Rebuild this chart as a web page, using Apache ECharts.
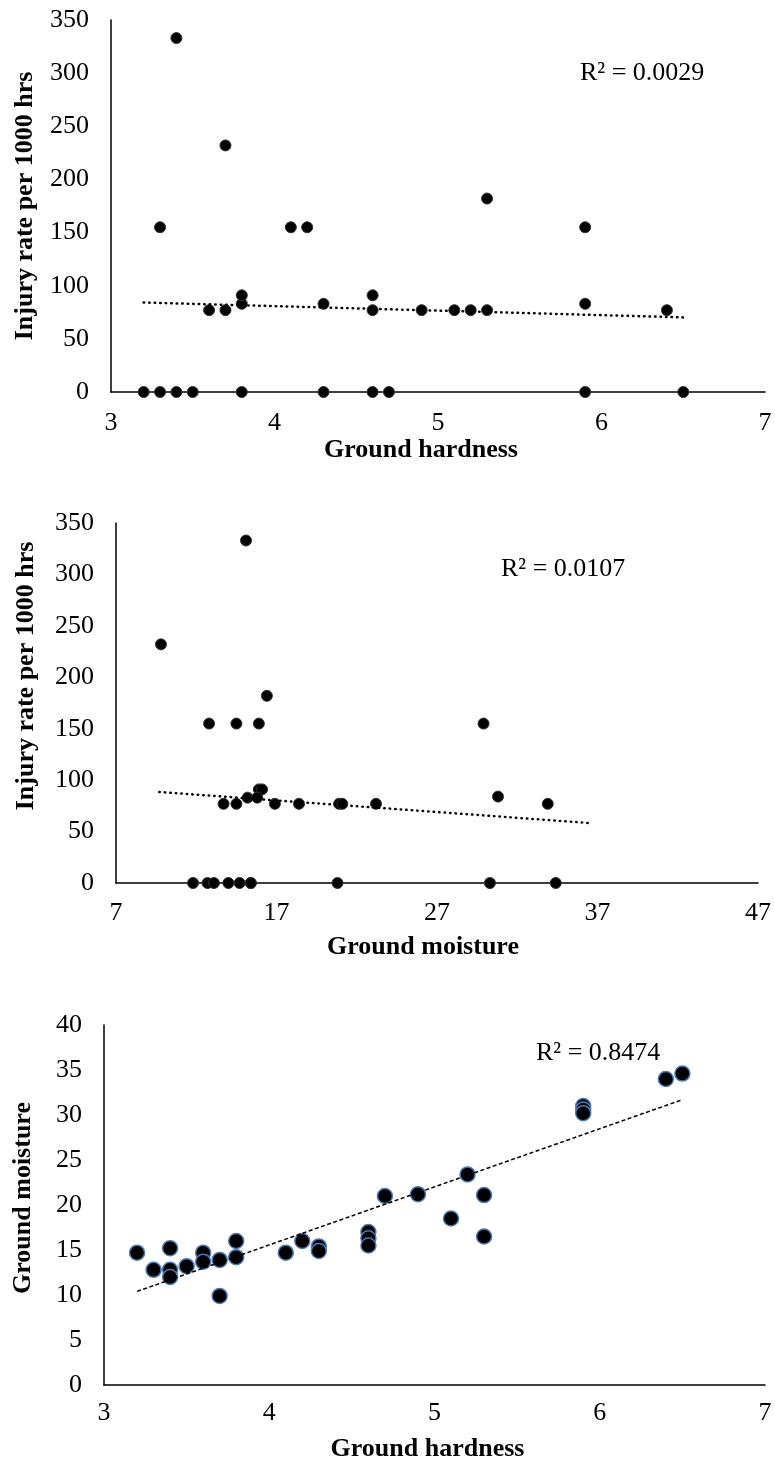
<!DOCTYPE html>
<html>
<head>
<meta charset="utf-8">
<script src="https://cdn.jsdelivr.net/npm/echarts@6/dist/echarts.min.js"></script>
<style>
html,body{margin:0;padding:0;background:#fff;}
#c{width:775px;height:1470px;}
</style>
</head>
<body>
<div id="c"></div>
<script>
// ---- Chart 1: Ground hardness vs injury rate ----
var hardness1 = [3.2,3.3,3.3,3.4,3.4,3.5,3.6,3.7,3.7,3.8,3.8,3.8,4.1,4.2,4.3,4.3,4.6,4.6,4.6,4.7,4.9,5.1,5.2,5.3,5.3,5.9,5.9,5.9,6.4,6.5];
var injury1   = [0,0,155,0,333,0,77,77,232,0,83,91,155,155,0,83,0,77,91,0,77,77,77,77,182,0,83,155,77,0];
var trend1X = [3.2, 6.5];
var trend1Y = [84.2, 70.2];
var r2Label1 = "R² = 0.0029";

// ---- Chart 2: Ground moisture vs injury rate ----
var moisture2 = [9.8,15.1,16.4,12.8,14.5,15.9,15.9,16.1,15.2,15.8,13.7,14.5,16.9,18.4,20.9,21.1,23.2,29.9,30.8,33.9,11.8,12.7,13.1,14.0,14.7,15.4,15.4,20.8,30.3,34.4];
var injury2   = [232,333,182,155,155,155,91,91,83,83,77,77,77,77,77,77,77,155,84,77,0,0,0,0,0,0,0,0,0,0];
var trend2X = [9.7, 36.4];
var trend2Y = [88.5, 58.4];
var r2Label2 = "R² = 0.0107";

// ---- Chart 3: Ground hardness vs ground moisture ----
var hardness3 = [3.2,3.3,3.4,3.4,3.4,3.5,3.6,3.6,3.7,3.7,3.8,3.8,4.1,4.2,4.3,4.3,4.6,4.6,4.6,4.7,4.9,5.1,5.2,5.3,5.3,5.9,5.9,5.9,6.4,6.5];
var moisture3 = [14.7,12.8,15.2,12.8,12.0,13.2,14.7,13.7,13.9,9.9,16.0,14.2,14.7,16.0,15.4,14.9,17.0,16.3,15.5,21.0,21.2,18.5,23.4,21.1,16.5,31.0,30.6,30.2,34.0,34.6];
var trend3X = [3.2, 6.5];
var trend3Y = [10.4, 31.7];
var r2Label3 = "R² = 0.8474";

// tick labels
var xTicksHardness = [3,4,5,6,7];
var xTicksMoisture = [7,17,27,37,47];
var yTicksInjury = [0,50,100,150,200,250,300,350];
var yTicksMoisture = [0,5,10,15,20,25,30,35,40];

var yTitleInjury = "Injury rate per 1000 hrs";
var xTitleHardness = "Ground hardness";
var xTitleMoisture = "Ground moisture";
var yTitleMoisture = "Ground moisture";

function zip(a, b){ return a.map(function(v,i){ return [v, b[i]]; }); }

var FONT = '"Liberation Serif", "Times New Roman", serif';
var axisLineStyle = {show:true, onZero:false, lineStyle:{color:'#000', width:1.5}};

function xAxisDef(grid, min, max, ticks, name, labelMargin, nameGap, namePad){
  return {
    type:'value', gridIndex:grid, min:min, max:max,
    axisLine: axisLineStyle, axisTick:{show:false}, splitLine:{show:false},
    axisLabel:{customValues:ticks, color:'#000', fontFamily:FONT, fontSize:26, margin:labelMargin},
    name:name, nameLocation:'middle', nameGap:nameGap,
    nameTextStyle:{color:'#000', fontFamily:FONT, fontSize:26, fontWeight:'bold', padding:namePad}
  };
}
function yAxisDef(grid, min, max, ticks, name, nameGap, namePad){
  return {
    type:'value', gridIndex:grid, min:min, max:max,
    axisLine: axisLineStyle, axisTick:{show:false}, splitLine:{show:false},
    axisLabel:{customValues:ticks, color:'#000', fontFamily:FONT, fontSize:26, margin:22},
    name:name, nameLocation:'middle', nameGap:nameGap,
    nameTextStyle:{color:'#000', fontFamily:FONT, fontSize:26, fontWeight:'bold', padding:namePad}
  };
}

var chart = echarts.init(document.getElementById('c'), null, {renderer:'canvas'});
var dotStyle = {color:'#000', borderColor:'#333', borderWidth:1, opacity:1};
var option = {
  animation:false,
  backgroundColor:'#fff',
  grid:[
    {left:111, top:20, width:654, height:372},
    {left:116, top:523, width:642, height:360},
    {left:104, top:1025, width:661, height:360}
  ],
  xAxis:[
    xAxisDef(0, 3, 7, xTicksHardness, xTitleHardness, 18, 45, [0,34,0,0]),
    xAxisDef(1, 7, 47, xTicksMoisture, xTitleMoisture, 17, 51, [0,28,0,0]),
    xAxisDef(2, 3, 7, xTicksHardness, xTitleHardness, 15, 51, [0,14,0,0])
  ],
  yAxis:[
    yAxisDef(0, 0, 350, yTicksInjury, yTitleInjury, 73, [0,0,0,0]),
    yAxisDef(1, 0, 350, yTicksInjury, yTitleInjury, 77, [0,0,0,54]),
    yAxisDef(2, 0, 40, yTicksMoisture, yTitleMoisture, 68, [0,0,0,14])
  ],
  series:[
    {type:'scatter', xAxisIndex:0, yAxisIndex:0, data:zip(hardness1, injury1), symbolSize:11,
      itemStyle:dotStyle, emphasis:{disabled:true}, z:3},
    {type:'line', xAxisIndex:0, yAxisIndex:0, data:zip(trend1X, trend1Y), showSymbol:false, symbol:'none',
      lineStyle:{color:'#000', width:2.5, type:[0.5,5], cap:'round'}, z:4, silent:true},
    {type:'scatter', xAxisIndex:1, yAxisIndex:1, data:zip(moisture2, injury2), symbolSize:11,
      itemStyle:dotStyle, emphasis:{disabled:true}, z:3},
    {type:'line', xAxisIndex:1, yAxisIndex:1, data:zip(trend2X, trend2Y), showSymbol:false, symbol:'none',
      lineStyle:{color:'#000', width:2.5, type:[0.5,5], cap:'round'}, z:4, silent:true},
    {type:'scatter', xAxisIndex:2, yAxisIndex:2, data:zip(hardness3, moisture3), symbolSize:15,
      itemStyle:{color:'#000', borderColor:'#4a78b8', borderWidth:1.5, opacity:1}, emphasis:{disabled:true}, z:3},
    {type:'line', xAxisIndex:2, yAxisIndex:2, data:zip(trend3X, trend3Y), showSymbol:false, symbol:'none',
      lineStyle:{color:'#000', width:1.5, type:[4,2.5]}, z:4, silent:true}
  ],
  graphic:[
    {type:'text', left:580, top:60, style:{text:r2Label1, fill:'#000', font:'26px ' + FONT}},
    {type:'text', left:501, top:556, style:{text:r2Label2, fill:'#000', font:'26px ' + FONT}},
    {type:'text', left:536, top:1040, style:{text:r2Label3, fill:'#000', font:'26px ' + FONT}}
  ]
};
chart.setOption(option);
</script>
</body>
</html>
